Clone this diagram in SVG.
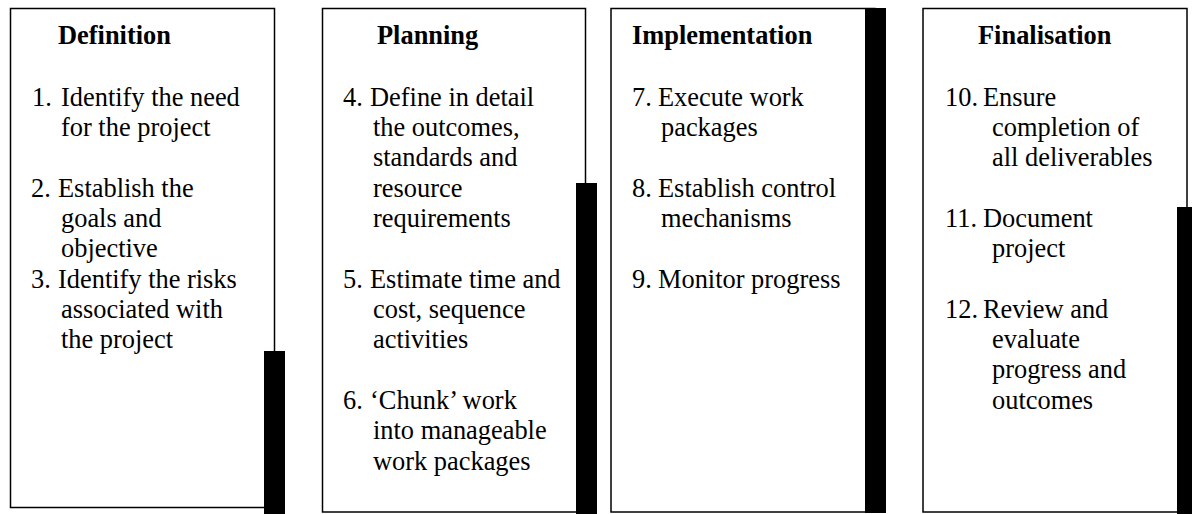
<svg xmlns="http://www.w3.org/2000/svg" width="1192" height="514" viewBox="0 0 1192 514">
  <style>
    .box { fill: #ffffff; stroke: #000000; stroke-width: 1.5; }
    .bar { fill: #000000; }
    text { font-family: "Liberation Serif", "Times New Roman", serif; font-size: 26.4px; fill: #000000; }
    .title { font-weight: bold; }
  </style>
  <rect width="1192" height="514" fill="#ffffff"/>

  <!-- Phase 1 -->
  <g id="definition">
    <rect class="box" x="10.5" y="8.5" width="264" height="499"/>
    <rect class="bar" x="264" y="351" width="21" height="163"/>
    <text class="title" x="58" y="44">Definition</text>
    <text y="106"><tspan x="32">1.</tspan><tspan x="61">Identify the need</tspan></text>
    <text x="61" y="136">for the project</text>
    <text y="197"><tspan x="31">2.</tspan><tspan x="58">Establish the</tspan></text>
    <text x="61" y="227">goals and</text>
    <text x="61" y="257">objective</text>
    <text y="288"><tspan x="31">3.</tspan><tspan x="58">Identify the risks</tspan></text>
    <text x="61" y="318">associated with</text>
    <text x="61" y="348">the project</text>
  </g>

  <!-- Phase 2 -->
  <g id="planning">
    <rect class="box" x="322.5" y="8.5" width="263" height="503.5"/>
    <rect class="bar" x="576" y="183" width="21" height="331"/>
    <text class="title" x="377" y="44">Planning</text>
    <text y="106"><tspan x="343">4.</tspan><tspan x="370">Define in detail</tspan></text>
    <text x="373" y="136">the outcomes,</text>
    <text x="373" y="166">standards and</text>
    <text x="373" y="197">resource</text>
    <text x="373" y="227">requirements</text>
    <text y="288"><tspan x="343">5.</tspan><tspan x="370">Estimate time and</tspan></text>
    <text x="373" y="318">cost, sequence</text>
    <text x="373" y="348">activities</text>
    <text y="409"><tspan x="343">6.</tspan><tspan x="370">‘Chunk’ work</tspan></text>
    <text x="373" y="439">into manageable</text>
    <text x="373" y="470">work packages</text>
  </g>

  <!-- Phase 3 -->
  <g id="implementation">
    <rect class="box" x="611" y="8.5" width="264" height="503.5"/>
    <rect class="bar" x="865" y="8" width="21" height="505"/>
    <text class="title" x="632" y="44">Implementation</text>
    <text y="106"><tspan x="632">7.</tspan><tspan x="658">Execute work</tspan></text>
    <text x="661" y="136">packages</text>
    <text y="197"><tspan x="632">8.</tspan><tspan x="658">Establish control</tspan></text>
    <text x="661" y="227">mechanisms</text>
    <text y="288"><tspan x="632">9.</tspan><tspan x="658">Monitor progress</tspan></text>
  </g>

  <!-- Phase 4 -->
  <g id="finalisation">
    <rect class="box" x="923" y="8.5" width="264" height="503.5"/>
    <rect class="bar" x="1177" y="207" width="16" height="307"/>
    <text class="title" x="978" y="44">Finalisation</text>
    <text y="106"><tspan x="945">10.</tspan><tspan x="983">Ensure</tspan></text>
    <text x="992" y="136">completion of</text>
    <text x="992" y="166">all deliverables</text>
    <text y="227"><tspan x="945">11.</tspan><tspan x="983">Document</tspan></text>
    <text x="992" y="257">project</text>
    <text y="318"><tspan x="945">12.</tspan><tspan x="983">Review and</tspan></text>
    <text x="992" y="348">evaluate</text>
    <text x="992" y="378">progress and</text>
    <text x="992" y="409">outcomes</text>
  </g>

  <!-- The phases stand side by side with no links between them -->
  <g id="connectors"/>
</svg>
